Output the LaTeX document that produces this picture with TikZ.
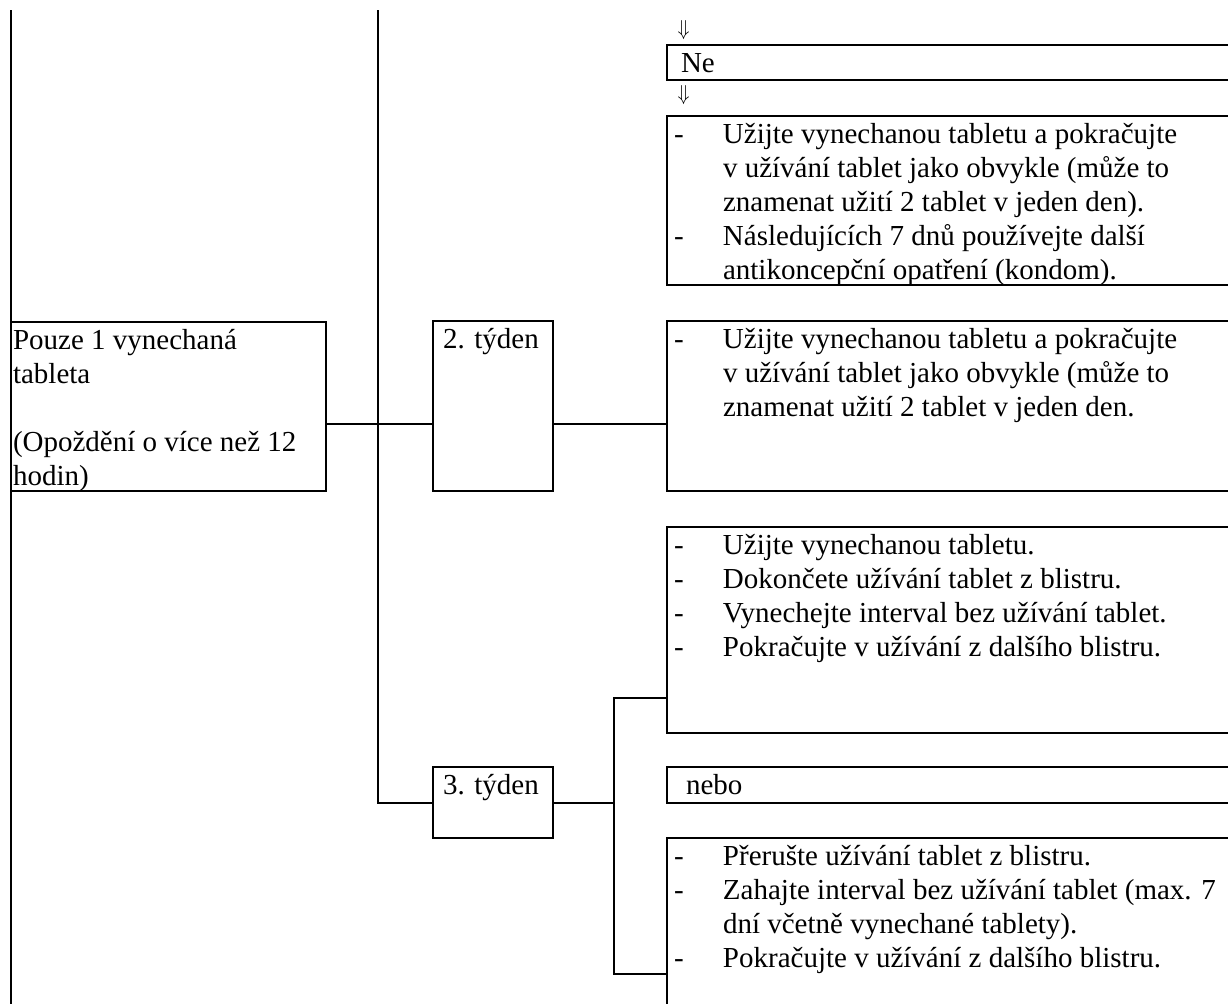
\documentclass[tikz,border=0pt]{standalone}
\usepackage{graphicx}
\usepackage{fontspec}
\setmainfont{Liberation Serif}
\hbadness=10000
\hfuzz=1000pt
\newcommand{\bx}[4]{\begin{minipage}[c][#2][t]{#1}\fontsize{14.5pt}{17pt}\selectfont\lineskiplimit=-100pt\parindent=0pt\leftskip=#3\relax #4\end{minipage}}
\newcommand{\itm}[1]{\par\hangindent=28pt\hangafter=1\noindent\makebox[28pt][l]{\rule{0pt}{13.5pt}\hspace{3.5pt}-}#1}
\newcommand{\fst}{\noindent\rule{0pt}{13.5pt}}
\newcommand{\darr}{\resizebox{6pt}{7.5pt}{$\Downarrow$}}
\begin{document}
\begin{tikzpicture}[x=0.5pt,y=-0.5pt,
  box/.style={draw, line width=1pt, rectangle, inner sep=0pt, outer sep=0pt, anchor=north west},
  conn/.style={draw, line width=1pt},
  arr/.style={inner sep=0pt, anchor=center}]
\useasboundingbox (0,0) rectangle (1228,1003);
\clip (0,0) rectangle (1228,1003);

% boxes
\node[box] (L) at (11,322) {\bx{157.5pt}{84.5pt}{1pt}{\fst Pouze 1 vynechaná\\ tableta\\[17pt] (Opoždění o více než 12\\ hodin)}};
\node[box] (T2) at (433,321) {\bx{60pt}{85pt}{5pt}{\fst 2. týden}};
\node[box] (T3) at (433,767) {\bx{60pt}{35.5pt}{5pt}{\fst 3. týden}};

\node[arr] (a1) at (683.5,30) {\darr};
\node[box] (Ne) at (667,45) {\bx{300pt}{17.5pt}{7pt}{\fst Ne}};
\node[arr] (a2) at (683.5,95) {\darr};
\node[box] (R1) at (667,116) {\bx{300pt}{84.5pt}{0pt}{\itm{Užijte vynechanou tabletu a pokračujte\\ v užívání tablet jako obvykle (může to\\ znamenat užití 2 tablet v jeden den).}\itm{Následujících 7 dnů používejte další\\ antikoncepční opatření (kondom).}}};
\node[box] (R2) at (667,321) {\bx{300pt}{85pt}{0pt}{\itm{Užijte vynechanou tabletu a pokračujte\\ v užívání tablet jako obvykle (může to\\ znamenat užití 2 tablet v jeden den.}}};
\node[box] (R3) at (667,527) {\bx{300pt}{103pt}{0pt}{\itm{Užijte vynechanou tabletu.}\itm{Dokončete užívání tablet z blistru.}\itm{Vynechejte interval bez užívání tablet.}\itm{Pokračujte v užívání z dalšího blistru.}}};
\node[box] (nebo) at (667,767) {\bx{300pt}{18pt}{9.5pt}{\fst nebo}};
\node[box] (R5) at (667,838) {\bx{300pt}{100pt}{0pt}{\itm{Přerušte užívání tablet z blistru.}\itm{Zahajte interval bez užívání tablet (max. 7\\ dní včetně vynechané tablety).}\itm{Pokračujte v užívání z dalšího blistru.}}};

% connectors
\coordinate (topL) at (11,10);
\coordinate (botL) at (11,1010);
\coordinate (topM) at (378,10);
\coordinate (h2) at (0,423.5);
\coordinate (jt) at (614,698);
\coordinate (jb) at (614,974);
\draw[conn] (topL) -- (botL);
\draw[conn] (topM) |- (T3.west);
\draw[conn] (L.east |- h2) -- (T2.west |- h2);
\draw[conn] (T2.east |- h2) -- (R2.west |- h2);
\draw[conn] (T3.east) -- (T3.east -| jt);
\draw[conn] (R3.west |- jt) -- (jt) -- (jb) -- (R5.west |- jb);
\end{tikzpicture}
\end{document}
